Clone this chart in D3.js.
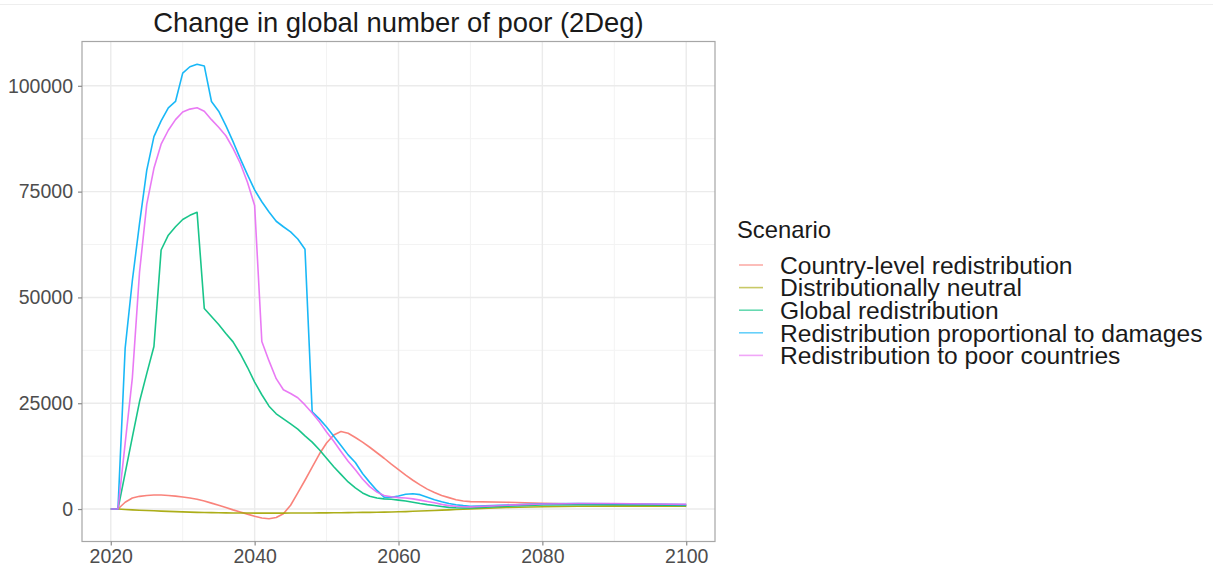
<!DOCTYPE html>
<html>
<head>
<meta charset="utf-8">
<script src="https://cdn.jsdelivr.net/npm/d3@7"></script>
<style>
  html, body { margin: 0; padding: 0; background: #ffffff; }
  svg { display: block; font-family: "Liberation Sans", Arial, sans-serif; }
</style>
</head>
<body>
<svg id="chart" width="1213" height="568"></svg>
<script>
// Years: annual to 2070, then every five years
const years = [
  2020, 2021, 2022, 2023, 2024, 2025, 2026, 2027, 2028, 2029,
  2030, 2031, 2032, 2033, 2034, 2035, 2036, 2037, 2038, 2039,
  2040, 2041, 2042, 2043, 2044, 2045, 2046, 2047, 2048, 2049,
  2050, 2051, 2052, 2053, 2054, 2055, 2056, 2057, 2058, 2059,
  2060, 2061, 2062, 2063, 2064, 2065, 2066, 2067, 2068, 2069,
  2070, 2075, 2080, 2085, 2090, 2095, 2100
];

const countryLevel = [
  0, 0, 1600, 2600, 3000, 3200, 3300, 3300, 3200, 3050,
  2850, 2600, 2300, 1900, 1400, 900, 350, -200, -700, -1200,
  -1700, -2100, -2300, -2000, -1100, 900, 3800, 6800, 9900, 13000,
  15600, 17500, 18300, 17900, 16900, 15800, 14600, 13300, 12000, 10600,
  9300, 8000, 6800, 5700, 4700, 3900, 3200, 2700, 2200, 1900,
  1750, 1600, 1350, 1200, 1100, 1000, 900
];

const neutral = [
  0, 0, -100, -200, -280, -350, -420, -490, -560, -620,
  -680, -730, -780, -820, -850, -880, -900, -920, -940, -950,
  -960, -960, -960, -960, -955, -950, -940, -930, -920, -910,
  -900, -880, -860, -840, -820, -800, -780, -750, -720, -690,
  -650, -600, -540, -470, -400, -330, -260, -190, -120, -60,
  0, 350, 550, 650, 700, 700, 650
];

const globalRedist = [
  0, 0, 8500, 17000, 25400, 32000, 38400, 61200, 64700, 66700,
  68400, 69400, 70100, 47400, 45500, 43600, 41500, 39500, 36700, 33500,
  30000, 27000, 24300, 22500, 21300, 20100, 18900, 17300, 15800, 14000,
  12000, 10000, 8200, 6400, 5000, 3800, 3000, 2600, 2400, 2300,
  2100, 1900, 1600, 1300, 1050, 850, 600, 400, 300, 250,
  250, 650, 950, 1000, 1000, 950, 850
];

const propDamages = [
  0, 0, 38000, 54000, 67500, 80000, 88000, 91700, 94800, 96300,
  103000, 104500, 105100, 104700, 96300, 94000, 90600, 86800, 82800, 79000,
  75400, 72600, 70200, 68000, 66700, 65500, 63800, 61400, 23000, 21300,
  19400, 17200, 15000, 12800, 11000, 8400, 6300, 4400, 2800, 2800,
  3100, 3500, 3600, 3400, 2800, 2200, 1700, 1300, 1000, 800,
  650, 950, 1250, 1300, 1250, 1150, 1050
];

const poorCountries = [
  0, 0, 15500, 31000, 56000, 72000, 80500, 86200, 89500, 92000,
  93800, 94500, 94800, 94000, 92000, 90200, 88200, 85200, 81700, 77200,
  71700, 39600, 35000, 30800, 28200, 27300, 26300, 24600, 22700, 20600,
  18200, 16000, 13600, 11300, 9300, 7100, 5300, 4000, 3200, 2900,
  2700, 2600, 2400, 2100, 1800, 1500, 1100, 800, 650, 550,
  500, 900, 1200, 1300, 1300, 1200, 1100
];

const scenarioNames = [
  "Country-level redistribution",
  "Distributionally neutral",
  "Global redistribution",
  "Redistribution proportional to damages",
  "Redistribution to poor countries"
];
const scenarioValues = [countryLevel, neutral, globalRedist, propDamages, poorCountries];
const scenarioColors = ["#F8766D", "#A3A500", "#00BF7D", "#00B0F6", "#E76BF3"];

const xTicks = [2020, 2040, 2060, 2080, 2100];
const xMinor = [2030, 2050, 2070, 2090];
const yTicks = [0, 25000, 50000, 75000, 100000];
const yMinor = [12500, 37500, 62500, 87500];

const titleText = "Change in global number of poor (2Deg)";
const legendTitle = "Scenario";

// Layout
const panel = { left: 82, right: 715, top: 41.5, bottom: 541.5 };

const series = scenarioNames.map((name, i) => ({
  name,
  color: scenarioColors[i],
  points: years.map((yr, j) => ({ year: yr, value: scenarioValues[i][j] }))
}));

// ggplot-style 5% expansion of the data range
const xExt = d3.extent(years);
const allVals = scenarioValues.flat();
const yExt = d3.extent(allVals);
const xPad = (xExt[1] - xExt[0]) * 0.05;
const yPad = (yExt[1] - yExt[0]) * 0.05;

const x = d3.scaleLinear()
  .domain([xExt[0] - xPad, xExt[1] + xPad])
  .range([panel.left, panel.right]);
const y = d3.scaleLinear()
  .domain([yExt[0] - yPad, yExt[1] + yPad])
  .range([panel.bottom, panel.top]);

const svg = d3.select("#chart");

// faint page rule at the very top
svg.append("line")
  .attr("x1", 0).attr("x2", 1213).attr("y1", 4.5).attr("y2", 4.5)
  .attr("stroke", "#eeeeee").attr("stroke-width", 1);

// Panel background
svg.append("rect")
  .attr("x", panel.left).attr("y", panel.top)
  .attr("width", panel.right - panel.left)
  .attr("height", panel.bottom - panel.top)
  .attr("fill", "#ffffff");

const grid = svg.append("g");
// minor grid
grid.selectAll("line.xminor").data(xMinor).join("line")
  .attr("x1", d => x(d)).attr("x2", d => x(d))
  .attr("y1", panel.top).attr("y2", panel.bottom)
  .attr("stroke", "#f3f3f3").attr("stroke-width", 1);
grid.selectAll("line.yminor").data(yMinor).join("line")
  .attr("x1", panel.left).attr("x2", panel.right)
  .attr("y1", d => y(d)).attr("y2", d => y(d))
  .attr("stroke", "#f3f3f3").attr("stroke-width", 1);
// major grid
grid.selectAll("line.xmajor").data(xTicks).join("line")
  .attr("x1", d => x(d)).attr("x2", d => x(d))
  .attr("y1", panel.top).attr("y2", panel.bottom)
  .attr("stroke", "#ebebeb").attr("stroke-width", 1.4);
grid.selectAll("line.ymajor").data(yTicks).join("line")
  .attr("x1", panel.left).attr("x2", panel.right)
  .attr("y1", d => y(d)).attr("y2", d => y(d))
  .attr("stroke", "#ebebeb").attr("stroke-width", 1.4);

// Lines
const line = d3.line()
  .x(d => x(d.year))
  .y(d => y(d.value));

svg.append("g")
  .selectAll("path")
  .data(series)
  .join("path")
  .attr("d", d => line(d.points))
  .attr("fill", "none")
  .attr("stroke", d => d.color)
  .attr("stroke-opacity", 0.9)
  .attr("stroke-width", 1.6)
  .attr("stroke-linejoin", "round");

// Panel border
svg.append("rect")
  .attr("x", panel.left).attr("y", panel.top)
  .attr("width", panel.right - panel.left)
  .attr("height", panel.bottom - panel.top)
  .attr("fill", "none")
  .attr("stroke", "#a6a6a6").attr("stroke-width", 1.2);

// Axes
const xAxis = svg.append("g")
  .attr("transform", `translate(0,${panel.bottom})`)
  .call(d3.axisBottom(x).tickValues(xTicks).tickFormat(d3.format("d")).tickSize(4).tickPadding(4));
const yAxis = svg.append("g")
  .attr("transform", `translate(${panel.left},0)`)
  .call(d3.axisLeft(y).tickValues(yTicks).tickFormat(d3.format("d")).tickSize(4).tickPadding(5));

[xAxis, yAxis].forEach(ax => {
  ax.select(".domain").remove();
  ax.selectAll(".tick line").attr("stroke", "#8a8a8a").attr("stroke-width", 1.2);
  ax.selectAll(".tick text")
    .attr("fill", "#4d4d4d")
    .style("font-family", "'Liberation Sans', Arial, sans-serif")
    .style("font-size", "19.5px");
});

// Title
svg.append("text")
  .attr("x", (panel.left + panel.right) / 2)
  .attr("y", 31.5)
  .attr("text-anchor", "middle")
  .attr("fill", "#1a1a1a")
  .style("font-size", "27.4px")
  .text(titleText);

// Legend
const legend = svg.append("g").attr("transform", "translate(737,0)");
legend.append("text")
  .attr("x", 0).attr("y", 238)
  .attr("fill", "#1a1a1a")
  .style("font-size", "23.8px")
  .text(legendTitle);

const rows = legend.selectAll("g.item")
  .data(series)
  .join("g")
  .attr("transform", (d, i) => `translate(0,${265 + i * 22.6})`);
rows.append("line")
  .attr("x1", 2).attr("x2", 26).attr("y1", 0).attr("y2", 0)
  .attr("stroke", d => d.color)
  .attr("stroke-opacity", 0.6)
  .attr("stroke-width", 1.6);
rows.append("text")
  .attr("x", 43).attr("y", 0)
  .attr("dy", "0.36em")
  .attr("fill", "#1a1a1a")
  .style("font-size", "24.6px")
  .text(d => d.name);
</script>
</body>
</html>
